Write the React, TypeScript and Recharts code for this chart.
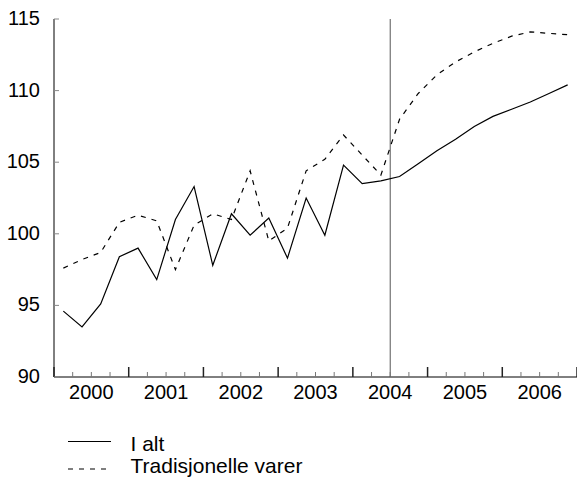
import { LineChart, Line, XAxis, YAxis, ReferenceLine } from "recharts";

// quarterly index values, 2000Q1 - 2006Q4
const years = ["2000", "2001", "2002", "2003", "2004", "2005", "2006"];
const quarterLabels = years.flatMap((y) => ["K1", "K2", "K3", "K4"].map((q) => `${y}${q}`));

const totalValues = [
  94.6, 93.5, 95.1, 98.4, 99.0, 96.8, 101.0, 103.3, 97.8, 101.4, 99.9, 101.1, 98.3, 102.5,
  99.9, 104.8, 103.5, 103.7, 104.0, 104.9, 105.8, 106.6, 107.5, 108.2, 108.7, 109.2, 109.8, 110.4,
];
const traditionalValues = [
  97.6, 98.2, 98.7, 100.8, 101.3, 100.9, 97.5, 100.6, 101.4, 101.0, 104.4, 99.5, 100.4, 104.4,
  105.2, 106.9, 105.5, 104.1, 108.0, 109.8, 111.1, 112.0, 112.7, 113.3, 113.8, 114.1, 114.0, 113.9,
];
const yTicks = [90, 95, 100, 105, 110, 115];
const forecastStart = 18; // quarter boundary where the projection starts

const data = quarterLabels.map((q, i) => ({
  x: i + 0.5,
  quarter: q,
  total: totalValues[i],
  traditional: traditionalValues[i],
}));
const xTicks = Array.from({ length: quarterLabels.length + 1 }, (_, i) => i);

const FONT = "'Liberation Sans', Arial, sans-serif";
const FONT_SIZE = 20;

function QuarterTick({ x, y, payload }: any) {
  const v = payload.value as number;
  const major = v % 4 === 0;
  const yearIdx = (v - 2) / 4;
  return (
    <g>
      <line
        x1={x}
        x2={x}
        y1={y}
        y2={y - (major ? 10 : 5)}
        stroke={major ? "#222" : "#777"}
        strokeWidth={major ? 1.5 : 1}
      />
      {v % 4 === 2 && years[yearIdx] && (
        <text x={x} y={y + 21.5} textAnchor="middle" fontFamily={FONT} fontSize={FONT_SIZE} fill="#000">
          {years[yearIdx]}
        </text>
      )}
    </g>
  );
}

function ValueTick({ x, y, payload }: any) {
  return (
    <g>
      <line x1={x} x2={x + 5} y1={y} y2={y} stroke="#888" />
      <text x={x - 14} y={y + 6} textAnchor="end" fontFamily={FONT} fontSize={FONT_SIZE} fill="#000">
        {payload.value}
      </text>
    </g>
  );
}

function ChartLegend() {
  return (
    <svg width={577} height={479} style={{ position: "absolute", left: 0, top: 0, pointerEvents: "none" }}>
      <line x1={68} x2={111} y1={441.5} y2={441.5} stroke="#000" strokeWidth={1.2} />
      <text x={130.5} y={451} fontFamily={FONT} fontSize={21} fill="#000">
        I alt
      </text>
      <line x1={68} x2={111} y1={469} y2={469} stroke="#000" strokeWidth={1.2} strokeDasharray="5 6" />
      <text x={130.5} y={473} fontFamily={FONT} fontSize={21} fill="#000">
        Tradisjonelle varer
      </text>
    </svg>
  );
}

export default function App() {
  return (
    <div style={{ position: "absolute", left: 0, top: 0, width: 577, height: 479, background: "#fff" }}>
      <LineChart width={577} height={479} data={data} margin={{ top: 19, right: 0, left: 0, bottom: 72 }}>
        <XAxis
          type="number"
          dataKey="x"
          domain={[0, quarterLabels.length]}
          ticks={xTicks}
          interval={0}
          height={30}
          tickSize={0}
          tickMargin={0}
          tickLine={false}
          axisLine={{ stroke: "#000" }}
          tick={<QuarterTick />}
        />
        <YAxis
          domain={[90, 115]}
          ticks={yTicks}
          interval={0}
          width={54}
          tickSize={0}
          tickMargin={0}
          tickLine={false}
          axisLine={{ stroke: "#000" }}
          tick={<ValueTick />}
        />
        <ReferenceLine x={forecastStart} stroke="#555" strokeWidth={1} />
        <Line
          type="linear"
          dataKey="traditional"
          name="Tradisjonelle varer"
          stroke="#000"
          strokeWidth={1.2}
          strokeDasharray="5 6"
          dot={false}
          isAnimationActive={false}
        />
        <Line
          type="linear"
          dataKey="total"
          name="I alt"
          stroke="#000"
          strokeWidth={1.2}
          dot={false}
          isAnimationActive={false}
        />
      </LineChart>
      <ChartLegend />
    </div>
  );
}
